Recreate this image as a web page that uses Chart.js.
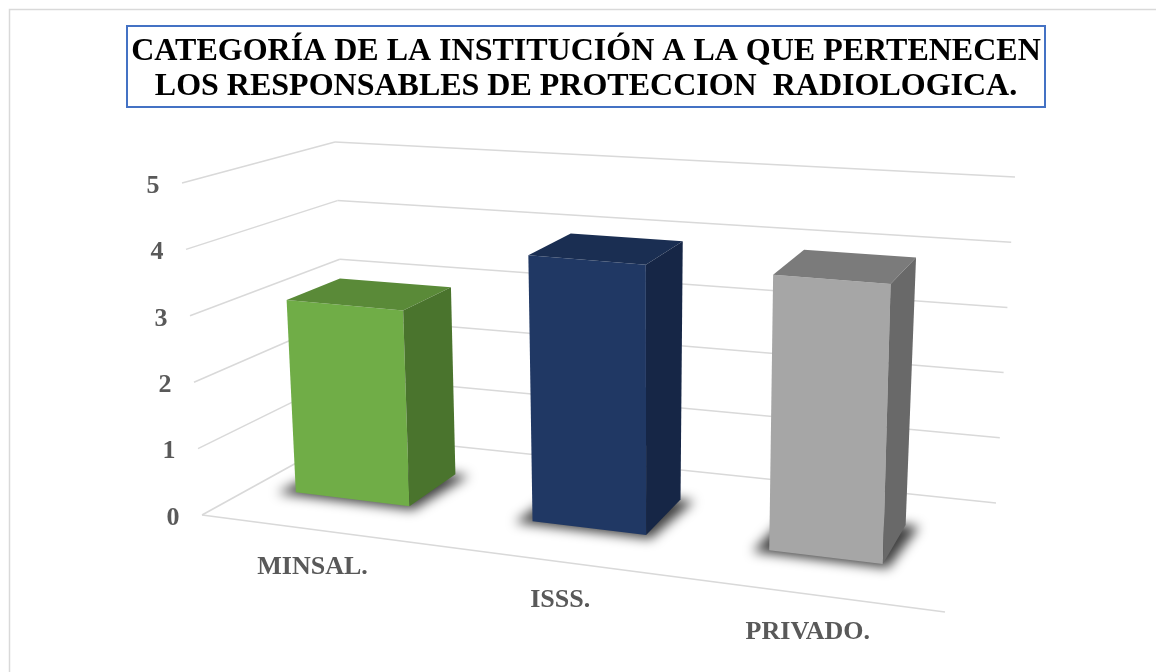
<!DOCTYPE html>
<html>
<head>
<meta charset="utf-8">
<script src="https://cdn.jsdelivr.net/npm/chart.js@4.4.1/dist/chart.umd.min.js"></script>
<style>
  html, body { margin: 0; background: #fff; }
  #wrap { width: 1156px; height: 672px; position: relative; }
</style>
</head>
<body>
<div id="wrap"><canvas id="chart"></canvas></div>
<script>
const categories = ['MINSAL.', 'ISSS.', 'PRIVADO.'];
const values = [3, 4, 4];
const titleLines = ['CATEGORÍA DE LA INSTITUCIÓN A LA QUE PERTENECEN', 'LOS RESPONSABLES DE PROTECCION  RADIOLOGICA.'];

const frontColors = ['#70ad47', '#203864', '#a6a6a6'];
const topColors = ['#5a8a38', '#1a2e52', '#7b7b7b'];
const sideColors = ['#4a742d', '#162646', '#696969'];

// screen position of the 3d box corners (floor = value 0, ceiling = axis max)
const box = {
  fl0: [202, 515], fr0: [945, 612], bl0: [347, 435], br0: [996, 503],
  fl5: [182, 183], fr5: [955, 243], bl5: [335, 142], br5: [1015, 177]
};
const depthFront = 0.35, depthBack = 0.72, uShift = -0.026;
const labelFont = '"Liberation Serif", "Times New Roman", serif';

function project(u, w, v, vmax) {
  const t = v / vmax;
  const mix = (a, b) => [a[0] + (b[0] - a[0]) * t, a[1] + (b[1] - a[1]) * t];
  const fl = mix(box.fl0, box.fl5), fr = mix(box.fr0, box.fr5);
  const bl = mix(box.bl0, box.bl5), br = mix(box.br0, box.br5);
  const a = (1 - u) * (1 - w), b = u * (1 - w), c = (1 - u) * w, d = u * w;
  return [a * fl[0] + b * fr[0] + c * bl[0] + d * br[0],
          a * fl[1] + b * fr[1] + c * bl[1] + d * br[1]];
}

function poly(ctx, pts, fill) {
  ctx.beginPath();
  ctx.moveTo(pts[0][0], pts[0][1]);
  for (let i = 1; i < pts.length; i++) ctx.lineTo(pts[i][0], pts[i][1]);
  ctx.closePath();
  ctx.fillStyle = fill;
  ctx.fill();
}

function line(ctx, a, b) {
  ctx.beginPath();
  ctx.moveTo(a[0], a[1]);
  ctx.lineTo(b[0], b[1]);
  ctx.stroke();
}

const plot3d = {
  id: 'plot3d',
  beforeDraw(chart) {
    const ctx = chart.ctx;
    ctx.save();
    ctx.fillStyle = '#fff';
    ctx.fillRect(0, 0, chart.width, chart.height);
    ctx.strokeStyle = '#d9d9d9';
    ctx.lineWidth = 1.5;
    ctx.strokeRect(9.5, 9.5, chart.width + 20, chart.height + 20);
    ctx.restore();
  },
  beforeDatasetsDraw(chart) {
    const ctx = chart.ctx;
    const ys = chart.scales.y;
    const area = chart.chartArea;
    const vmax = ys.max;
    const P = (u, w, v) => project(u, w, v, vmax);
    ctx.save();

    // walls and floor
    ctx.strokeStyle = '#d9d9d9';
    ctx.lineWidth = 1.5;
    ys.ticks.forEach(t => {
      line(ctx, P(0, 0, t.value), P(0, 1, t.value));
      line(ctx, P(0, 1, t.value), P(1, 1, t.value));
    });
    line(ctx, P(0, 0, 0), P(1, 0, 0));

    // value labels on the left wall edge
    ctx.fillStyle = '#595959';
    ctx.font = 'bold 26px ' + labelFont;
    ctx.textAlign = 'center';
    ctx.textBaseline = 'middle';
    ys.ticks.forEach(t => {
      const p = P(0, 0, t.value);
      ctx.fillText(String(t.value), p[0] - 29, p[1] + 3);
    });

    const bars = chart.getDatasetMeta(0).data;
    bars.forEach((bar, i) => {
      const p = bar.getProps(['x', 'y', 'base', 'width'], true);
      const uL = (p.x - p.width / 2 - area.left) / area.width + uShift;
      const uR = (p.x + p.width / 2 - area.left) / area.width + uShift;
      const uC = (uL + uR) / 2;
      const vt = ys.getValueForPixel(p.y);
      const vb = ys.getValueForPixel(p.base);
      const wf = depthFront, wb = depthBack;

      // soft floor shadow
      ctx.save();
      ctx.filter = 'blur(6px)';
      poly(ctx, [P(uL - 0.02, wf - 0.03, vb), P(uR + 0.01, wf - 0.03, vb),
                 P(uR + 0.02, wb, vb), P(uL - 0.01, wb, vb)], 'rgba(0,0,0,0.75)');
      ctx.restore();

      poly(ctx, [P(uL, wf, vb), P(uR, wf, vb), P(uR, wf, vt), P(uL, wf, vt)], frontColors[i]);
      poly(ctx, [P(uL, wf, vt), P(uR, wf, vt), P(uR, wb, vt), P(uL, wb, vt)], topColors[i]);
      poly(ctx, [P(uR, wf, vb), P(uR, wb, vb), P(uR, wb, vt), P(uR, wf, vt)], sideColors[i]);

      // category label in front of the floor
      const q = P(uC, 0, 0);
      ctx.fillStyle = '#595959';
      ctx.font = 'bold 26px ' + labelFont;
      ctx.fillText(chart.data.labels[i], q[0] + 6, q[1] + 39);
    });

    ctx.restore();
    return false;
  },
  afterDraw(chart) {
    const ctx = chart.ctx;
    ctx.save();
    ctx.strokeStyle = '#4472c4';
    ctx.lineWidth = 2;
    ctx.strokeRect(127, 26, 918, 81);
    ctx.restore();
  }
};

new Chart(document.getElementById('chart'), {
  type: 'bar',
  data: {
    labels: categories,
    datasets: [{
      data: values,
      backgroundColor: frontColors,
      categoryPercentage: 1,
      barPercentage: 0.48
    }]
  },
  options: {
    responsive: true,
    maintainAspectRatio: false,
    animation: false,
    layout: { padding: { left: 16, right: 0, top: 0, bottom: 0 } },
    scales: {
      x: { display: false },
      y: { display: false, min: 0, max: 5, ticks: { stepSize: 1 } }
    },
    plugins: {
      legend: { display: false },
      tooltip: { enabled: false },
      title: {
        display: true,
        text: titleLines,
        color: '#000',
        font: { family: labelFont, size: 32, weight: 'bold', lineHeight: 1.1 },
        padding: { top: 34, bottom: 20 }
      }
    }
  },
  plugins: [plot3d]
});
</script>
</body>
</html>
